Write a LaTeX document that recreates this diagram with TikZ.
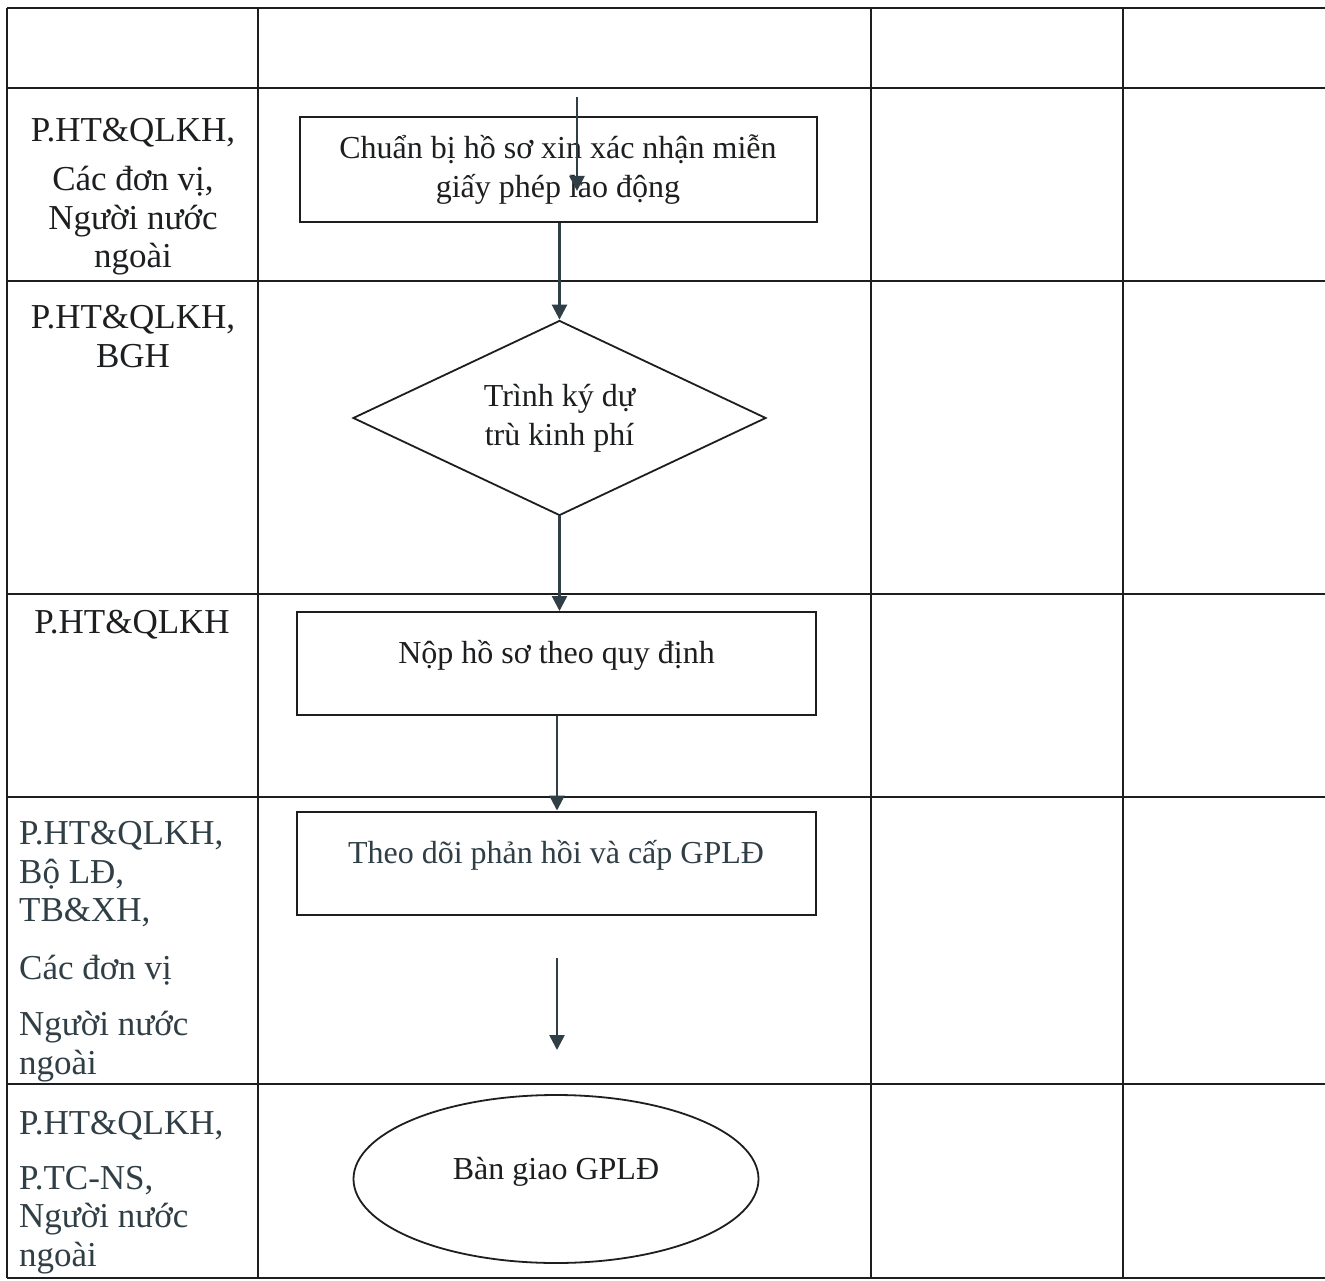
\documentclass[tikz,border=0pt]{standalone}
\usepackage{fontspec}
\setmainfont{Liberation Serif}
\usetikzlibrary{arrows.meta,shapes.geometric}
\definecolor{ink}{RGB}{28,30,32}
\definecolor{slate}{RGB}{48,62,70}

\begin{document}
\begin{tikzpicture}[x=1pt,y=-1pt,
  grid/.style={draw=ink,line width=2.2pt},
  who/.style={inner sep=0pt,font=\fontsize{35}{38.5}\selectfont,text=ink},
  stepbox/.style={draw=ink,line width=2pt,rectangle,inner sep=0pt,
    minimum width=519pt,minimum height=103pt,
    font=\fontsize{32}{39}\selectfont,text=ink,align=center},
  decide/.style={draw=ink,line width=1.8pt,diamond,aspect=2.1,inner sep=0pt,
    minimum width=413pt,minimum height=195pt,
    font=\fontsize{32}{39}\selectfont,text=ink,align=center},
  finish/.style={draw=ink,line width=1.8pt,ellipse,inner sep=0pt,
    minimum width=405pt,minimum height=168pt,text height=24pt,text depth=24pt,
    font=\fontsize{32}{39}\selectfont,text=ink},
  flow/.style={draw=slate,line width=2.6pt,-{Triangle[width=15pt,length=15pt]}}]

  \useasboundingbox (0,0) rectangle (1325,1281);
  \fill[white] (0,0) rectangle (1325,1281);

  % table
  \foreach \y in {8,88,281,594,797,1084,1278}
    \draw[grid] (7,\y) -- (1325,\y);
  \foreach \x in {7,258,871,1123}
    \draw[grid] (\x,8) -- (\x,1278);

  % who does it (base = last line)
  \node[who,anchor=base,align=center] (w1) at (133,268)
    {P.HT\&QLKH,\\[11pt]Các đơn vị,\\Người nước\\ngoài};
  \node[who,anchor=base,align=center] (w2) at (133,367) {P.HT\&QLKH,\\BGH};
  \node[who,anchor=base] (w3) at (132,633) {P.HT\&QLKH};
  \node[who,anchor=base west,align=left,text=slate] (w4) at (19,1074)
    {P.HT\&QLKH,\\Bộ LĐ,\\TB\&XH,\\[19pt]Các đơn vị\\[18pt]Người nước\\ngoài};
  \node[who,anchor=base west,align=left,text=slate] (w5) at (19,1266)
    {P.HT\&QLKH,\\[16pt]P.TC-NS,\\Người nước\\ngoài};

  % steps
  \node[stepbox,minimum width=517pt,minimum height=105pt] (s1) at (558,170)
    {Chuẩn bị hồ sơ xin xác nhận miễn\\giấy phép lao động};
  \node[decide] (s2) at (559.5,418) {Trình ký dự\\trù kinh phí};
  \node[stepbox,text height=24pt,text depth=24pt] (s3) at (556.5,663.5)
    {Nộp hồ sơ theo quy định};
  \node[stepbox,text height=24pt,text depth=24pt,text=slate] (s4) at (556,863)
    {Theo dõi phản hồi và cấp GPLĐ};
  \node[finish] (s5) at (556,1179) {Bàn giao GPLĐ};

  % arrows
  \coordinate (in0) at (577,97);
  \coordinate (in1) at (577,191);
  \coordinate (out0) at (557,958);
  \coordinate (out1) at (557,1050);
  \draw[flow] (in0) -- (in1);
  \draw[flow] (s2.north |- s1.south) -- (s2.north);
  \draw[flow] (s2.south) -- (s2.south |- s3.north);
  \draw[flow] (s3.south -| 557,0) -- (s4.north -| 557,0);
  \draw[flow] (out0) -- (out1);
\end{tikzpicture}
\end{document}
